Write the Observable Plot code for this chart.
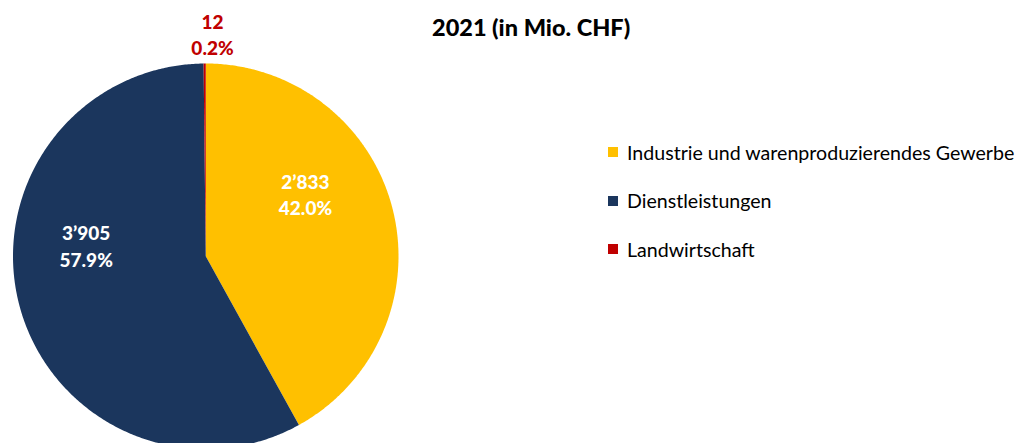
<!DOCTYPE html>
<html>
<head>
<meta charset="utf-8">
<script src="https://cdn.jsdelivr.net/npm/d3@7"></script>
<script src="https://cdn.jsdelivr.net/npm/@observablehq/plot@0.6"></script>
<style>
  html, body { margin: 0; padding: 0; background: #fff; }
  #wrap { position: relative; width: 1020px; height: 443px; overflow: hidden; font-family: Lato, "Open Sans", sans-serif; }
  #title { position: absolute; left: 432px; top: 13px; font-weight: 900; font-size: 23.5px; color: #000; white-space: nowrap; }
  #legend { position: absolute; left: 608px; top: 140px; }
  .item { display: flex; align-items: center; height: 24px; margin-bottom: 24.5px; font-size: 19.6px; color: #000; white-space: nowrap; }
  .sw { width: 10px; height: 10px; margin-right: 9px; }
</style>
</head>
<body>
<div id="wrap">
  <div id="chart"></div>
  <div id="title">2021 (in Mio. CHF)</div>
  <div id="legend"></div>
</div>
<script>
const categories = ["Industrie und warenproduzierendes Gewerbe", "Dienstleistungen", "Landwirtschaft"];
const values = [2833, 3905, 12];
const colors = ["#FFC000", "#1B365D", "#C00000"];
const labelColors = ["#FFFFFF", "#FFFFFF", "#C00000"];

const total = d3.sum(values);
const fmt = d3.formatLocale({decimal: ".", thousands: "\u2019", grouping: [3], currency: ["", ""]}).format(",d");
const pct = d3.format(".1f");

const arcs = d3.pie().sort(null).startAngle(0).endAngle(2 * Math.PI)(values);

// polygon points of each slice, computed from the pie angles
const slicePts = [];
arcs.forEach((a, i) => {
  const n = Math.max(2, Math.ceil((a.endAngle - a.startAngle) / (Math.PI / 360)));
  slicePts.push({cat: categories[i], x: 0, y: 0});
  for (let k = 0; k <= n; k++) {
    const t = a.startAngle + (a.endAngle - a.startAngle) * k / n;
    slicePts.push({cat: categories[i], x: Math.sin(t), y: Math.cos(t)});
  }
});

const labelR = [0.62, 0.62, 1.155];
const labels = arcs.map((a, i) => {
  const m = (a.startAngle + a.endAngle) / 2;
  return {
    cat: categories[i],
    x: labelR[i] * Math.sin(m),
    y: labelR[i] * Math.cos(m),
    text: fmt(values[i]) + "\n" + pct(values[i] / total * 100) + "%",
    color: labelColors[i]
  };
});

const offsets = [[-16, -33], [-4, -42], [8, 0]];

const chart = Plot.plot({
  width: 1020,
  height: 443,
  margin: 0,
  style: {fontFamily: "Lato, 'Open Sans', sans-serif", overflow: "visible", background: "transparent"},
  x: {domain: [-1, 1], range: [12.5, 398], axis: null},
  y: {domain: [-1, 1], range: [448.5, 63], axis: null},
  color: {domain: categories, range: colors},
  marks: [
    Plot.line(slicePts, {x: "x", y: "y", z: "cat", fill: "cat", stroke: "none", curve: "linear-closed"}),
    ...labels.map((l, i) => Plot.text([l], {
      x: "x", y: "y", text: "text", fill: l.color,
      fontWeight: 900, fontSize: 19, lineHeight: 1.4,
      dx: offsets[i][0], dy: offsets[i][1]
    }))
  ]
});
document.getElementById("chart").appendChild(chart);

const legend = document.getElementById("legend");
categories.forEach((c, i) => {
  const row = document.createElement("div");
  row.className = "item";
  const sw = document.createElement("div");
  sw.className = "sw";
  sw.style.background = colors[i];
  const tx = document.createElement("span");
  tx.textContent = c;
  row.appendChild(sw);
  row.appendChild(tx);
  legend.appendChild(row);
});
</script>
</body>
</html>
